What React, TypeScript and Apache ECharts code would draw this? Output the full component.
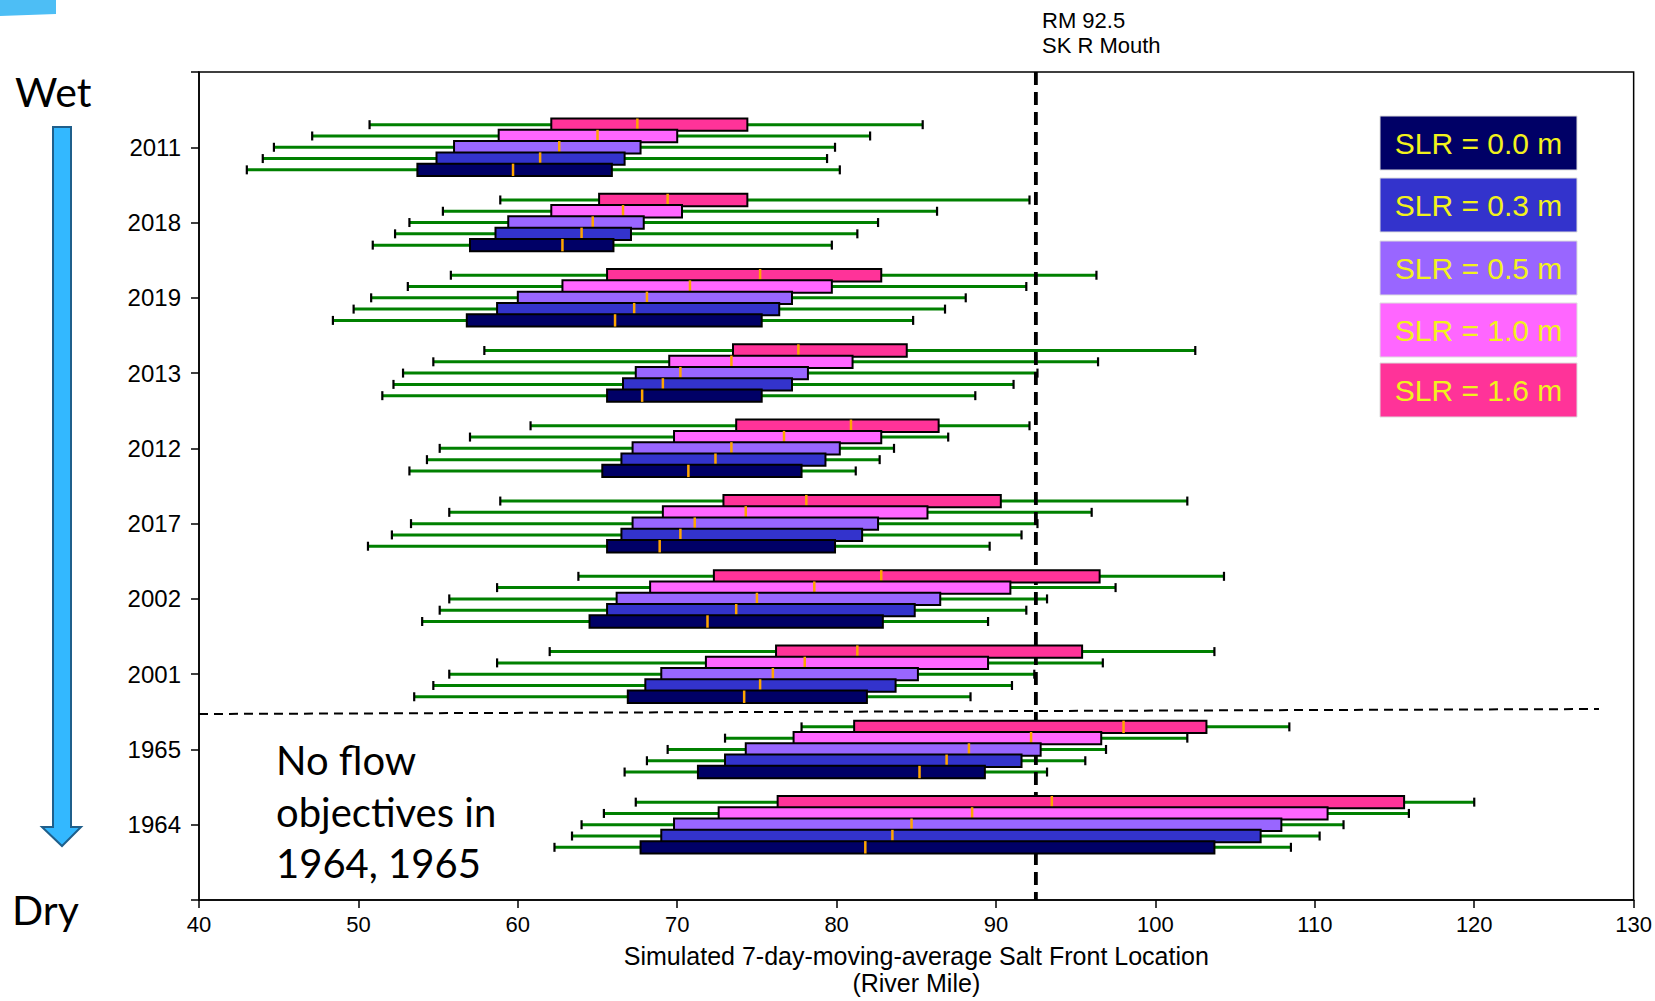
import React, { useEffect, useRef } from "react";
import * as echarts from "echarts";

// ---------- data ----------
const years = ["2011", "2018", "2019", "2013", "2012", "2017", "2002", "2001", "1965", "1964"];
const scenarioNames = ["SLR = 0.0 m", "SLR = 0.3 m", "SLR = 0.5 m", "SLR = 1.0 m", "SLR = 1.6 m"];
const scenarioColors = ["#000066", "#3333CC", "#9966FF", "#FF66FF", "#FF3399"];
// vertical offset of each scenario inside a year group (in category units, downward)
const scenarioOffsets = [0.3, 0.15, 0, -0.15, -0.3];

// [min, Q1, median, Q3, max] per year (same order as `years`)
const slr00 = [
  [43.0, 53.7, 59.7, 65.9, 80.2],
  [50.9, 57.0, 62.8, 66.0, 79.7],
  [48.4, 56.8, 66.1, 75.3, 84.8],
  [51.5, 65.6, 67.8, 75.3, 88.7],
  [53.2, 65.3, 70.7, 77.8, 81.2],
  [50.6, 65.6, 68.9, 79.9, 89.6],
  [54.0, 64.5, 71.9, 82.9, 89.5],
  [53.5, 66.9, 74.2, 81.9, 88.4],
  [66.7, 71.3, 85.2, 89.3, 93.2],
  [62.3, 67.7, 81.8, 103.7, 108.5],
];
const slr03 = [
  [44.0, 54.9, 61.4, 66.7, 79.4],
  [52.3, 58.6, 64.0, 67.1, 81.3],
  [49.7, 58.7, 67.3, 76.4, 86.8],
  [52.2, 66.6, 69.1, 77.2, 91.1],
  [54.3, 66.5, 72.4, 79.3, 82.7],
  [52.1, 66.5, 70.2, 81.6, 91.6],
  [55.1, 65.6, 73.7, 84.9, 91.9],
  [54.7, 68.0, 75.2, 83.7, 91.0],
  [68.1, 73.0, 86.9, 91.6, 95.6],
  [63.4, 69.0, 83.5, 106.6, 110.3],
];
const slr05 = [
  [44.7, 56.0, 62.6, 67.7, 79.9],
  [53.2, 59.4, 64.7, 67.9, 82.6],
  [50.8, 60.0, 68.1, 77.2, 88.1],
  [52.8, 67.4, 70.2, 78.2, 92.6],
  [55.1, 67.2, 73.4, 80.2, 83.6],
  [53.3, 67.2, 71.1, 82.6, 92.6],
  [55.7, 66.2, 75.0, 86.5, 93.2],
  [55.7, 69.0, 76.0, 85.1, 92.4],
  [69.4, 74.3, 88.3, 92.8, 96.9],
  [64.0, 69.8, 84.7, 107.9, 111.8],
];
const slr10 = [
  [47.1, 58.8, 65.0, 70.0, 82.1],
  [55.3, 62.1, 66.6, 70.3, 86.3],
  [53.1, 62.8, 70.8, 79.7, 91.9],
  [54.7, 69.5, 73.4, 81.0, 96.4],
  [57.0, 69.8, 76.7, 82.8, 87.0],
  [55.7, 69.1, 74.3, 85.7, 96.0],
  [58.7, 68.3, 78.6, 90.9, 97.5],
  [58.7, 71.8, 78.0, 89.5, 96.7],
  [73.0, 77.3, 92.2, 96.6, 102.0],
  [65.4, 72.6, 88.5, 110.8, 115.9],
];
const slr16 = [
  [50.7, 62.1, 67.5, 74.4, 85.4],
  [58.9, 65.1, 69.4, 74.4, 92.1],
  [55.8, 65.6, 75.2, 82.8, 96.3],
  [57.9, 73.5, 77.6, 84.4, 102.5],
  [60.8, 73.7, 80.9, 86.4, 92.1],
  [58.9, 72.9, 78.1, 90.3, 102.0],
  [63.8, 72.3, 82.8, 96.5, 104.3],
  [62.0, 76.2, 81.3, 95.4, 103.7],
  [77.8, 81.1, 98.0, 103.2, 108.4],
  [67.4, 76.3, 93.5, 115.6, 120.0],
];
const scenarioData = [slr00, slr03, slr05, slr10, slr16];

const xTicks = { min: 40, max: 130, interval: 10 };
const skMouth = 92.5;
const xTitle = "Simulated 7-day-moving-average Salt Front Location\n(River Mile)";
const noteLines = ["No flow", "objectives in", "1964, 1965"];

const SANS = "'Liberation Sans', Arial, sans-serif";
const HUM = "Lato, 'Open Sans', sans-serif";
const BOX_HALF = 0.082;

function rows(idx: number) {
  return scenarioData[idx].map((d, i) => [i + 1 + scenarioOffsets[idx], d[0], d[1], d[2], d[3], d[4]]);
}

export default function App() {
  const ref = useRef<HTMLDivElement>(null);
  useEffect(() => {
    if (!ref.current) return;
    const chart = echarts.init(ref.current, undefined, { renderer: "svg" });

    const whiskerSeries = scenarioNames.map((name, idx) => ({
      type: "custom",
      name: name + " whisker",
      z: 2,
      silent: true,
      data: rows(idx),
      encode: { x: [1, 5], y: 0 },
      renderItem: (params: any, api: any) => {
        const y = api.value(0);
        const p1 = api.coord([api.value(1), y]);
        const p2 = api.coord([api.value(5), y]);
        const c = 4.5;
        return {
          type: "group",
          children: [
            { type: "line", shape: { x1: p1[0], y1: p1[1], x2: p2[0], y2: p2[1] }, style: { stroke: "#008000", lineWidth: 3 } },
            { type: "line", shape: { x1: p1[0], y1: p1[1] - c, x2: p1[0], y2: p1[1] + c }, style: { stroke: "#000", lineWidth: 2.2 } },
            { type: "line", shape: { x1: p2[0], y1: p2[1] - c, x2: p2[0], y2: p2[1] + c }, style: { stroke: "#000", lineWidth: 2.2 } },
          ],
        };
      },
    }));

    const dashSeries = {
      type: "custom",
      name: "RM 92.5",
      z: 3,
      silent: true,
      data: [[skMouth]],
      renderItem: (params: any, api: any) => {
        const a = api.coord([api.value(0), 0]);
        const b = api.coord([api.value(0), 11]);
        return {
          type: "line",
          shape: { x1: a[0], y1: a[1], x2: b[0], y2: b[1] },
          style: { stroke: "#000", lineWidth: 3.8, lineDash: [13, 7] },
        };
      },
    };

    const order = [4, 3, 2, 1, 0];
    const boxSeries = order.map((idx) => ({
      type: "custom",
      name: scenarioNames[idx],
      z: 4,
      silent: true,
      data: rows(idx),
      encode: { x: [2, 4], y: 0 },
      renderItem: (params: any, api: any) => {
        const y = api.value(0);
        const a = api.coord([api.value(2), y - BOX_HALF]);
        const b = api.coord([api.value(4), y + BOX_HALF]);
        const m1 = api.coord([api.value(3), y - BOX_HALF]);
        const m2 = api.coord([api.value(3), y + BOX_HALF]);
        const top = Math.min(a[1], b[1]);
        const h = Math.abs(b[1] - a[1]);
        return {
          type: "group",
          children: [
            {
              type: "rect",
              shape: { x: a[0], y: top, width: b[0] - a[0], height: h },
              style: { fill: scenarioColors[idx], stroke: "#000", lineWidth: 2 },
            },
            {
              type: "line",
              shape: { x1: m1[0], y1: m1[1], x2: m2[0], y2: m2[1] },
              style: { stroke: "#FFA500", lineWidth: 2.5 },
            },
          ],
        };
      },
    }));

    const legendTop = [116, 178, 241, 303, 363];
    const legendGraphics: any[] = [];
    scenarioNames.forEach((n, i) => {
      legendGraphics.push({
        type: "rect",
        shape: { x: 1380, y: legendTop[i], width: 197, height: 54 },
        style: { fill: scenarioColors[i], stroke: "#ddd", lineWidth: 1 },
        z: 10,
      });
      legendGraphics.push({
        type: "text",
        x: 1478.5,
        y: legendTop[i] + 27,
        z: 11,
        style: {
          text: n,
          fill: "#F2F21C",
          font: `30px ${SANS}`,
          align: "center",
          verticalAlign: "middle",
        },
      });
    });

    const option: any = {
      animation: false,
      backgroundColor: "#fff",
      grid: {
        left: 199,
        top: 72,
        right: 21,
        bottom: 101,
        show: true,
        borderColor: "#000",
        borderWidth: 1.5,
        backgroundColor: "transparent",
      },
      xAxis: {
        type: "value",
        min: xTicks.min,
        max: xTicks.max,
        interval: xTicks.interval,
        position: "bottom",
        axisLine: { show: true, onZero: false, lineStyle: { color: "#000", width: 1.5 } },
        axisTick: { show: true, inside: false, length: 8, lineStyle: { color: "#000", width: 1.5 } },
        splitLine: { show: false },
        axisLabel: { color: "#000", fontSize: 22, fontFamily: SANS, margin: 13 },
        name: xTitle,
        nameLocation: "middle",
        nameGap: 42,
        nameTextStyle: { color: "#000", fontSize: 25, fontFamily: SANS, lineHeight: 27 },
      },
      yAxis: {
        type: "value",
        min: 0,
        max: 11,
        interval: 1,
        inverse: true,
        position: "left",
        axisLine: { show: true, onZero: false, lineStyle: { color: "#000", width: 1.5 } },
        axisTick: { show: true, inside: false, length: 8, lineStyle: { color: "#000", width: 1.5 } },
        splitLine: { show: false },
        axisLabel: {
          color: "#000",
          fontSize: 24,
          fontFamily: SANS,
          margin: 18,
          formatter: (v: number) => (v >= 1 && v <= years.length ? years[v - 1] : ""),
        },
      },
      series: [...whiskerSeries, dashSeries, ...boxSeries],
      graphic: [
        {
          type: "polygon",
          shape: { points: [[0, 0], [56, 0], [56, 14], [0, 16]] },
          style: { fill: "#4DBEF5" },
        },
        {
          type: "polygon",
          shape: { points: [[53, 127], [71, 127], [71, 827], [81, 827], [62, 846], [42, 827], [53, 827]] },
          style: { fill: "#33B8FF", stroke: "#1F5F8B", lineWidth: 2 },
        },
        { type: "text", x: 15, y: 91, style: { text: "Wet", fill: "#000", font: `41px ${HUM}`, verticalAlign: "middle" } },
        { type: "text", x: 12, y: 909, style: { text: "Dry", fill: "#000", font: `41px ${HUM}`, verticalAlign: "middle" } },
        ...noteLines.map((t, i) => ({
          type: "text",
          x: 276,
          y: 760 + i * 51.5,
          z: 10,
          style: { text: t, fill: "#000", font: `40px ${HUM}`, verticalAlign: "middle" },
        })),
        { type: "text", x: 1042, y: 20, style: { text: "RM 92.5", fill: "#000", font: `22px ${SANS}`, verticalAlign: "middle" } },
        { type: "text", x: 1042, y: 45, style: { text: "SK R Mouth", fill: "#000", font: `22px ${SANS}`, verticalAlign: "middle" } },
        {
          type: "line",
          z: 12,
          shape: { x1: 199, y1: 714, x2: 1599, y2: 709 },
          style: { stroke: "#000", lineWidth: 2, lineDash: [9, 6] },
        },
        ...legendGraphics,
      ],
    };
    chart.setOption(option);
    return () => chart.dispose();
  }, []);
  return <div ref={ref} style={{ position: "absolute", left: 0, top: 0, width: 1655, height: 1001 }} />;
}
